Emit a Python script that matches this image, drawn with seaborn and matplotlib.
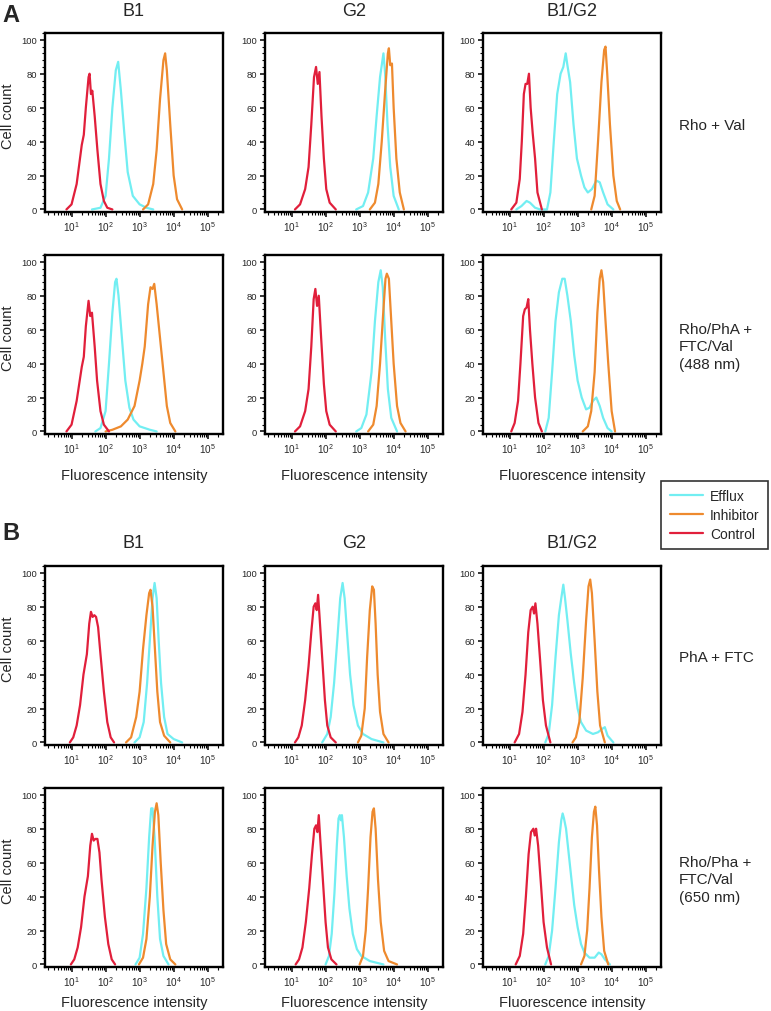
import pandas as pd
import matplotlib
matplotlib.use("Agg")
import matplotlib.pyplot as plt
from matplotlib.ticker import MultipleLocator, LogLocator, NullFormatter
from matplotlib.lines import Line2D
import seaborn as sns

# histogram outlines: (log10 intensity, cell count)
# panel A, row 1 (Rho + Val)
A1_EFFLUX = [(1.6, 0), (1.85, 1), (2.0, 8), (2.1, 30), (2.2, 60), (2.3, 82), (2.37, 87), (2.45, 70), (2.55, 45), (2.65, 22), (2.8, 8), (3.0, 3), (3.2, 1), (3.4, 0)]
A1_INHIB = [(3.1, 0), (3.25, 3), (3.4, 15), (3.5, 35), (3.6, 65), (3.7, 88), (3.75, 92), (3.8, 82), (3.9, 50), (4.0, 20), (4.1, 6), (4.25, 0)]
A1_CONTROL = [(0.85, 0), (1.0, 3), (1.15, 15), (1.3, 38), (1.36, 44), (1.42, 60), (1.5, 78), (1.53, 80), (1.57, 68), (1.61, 70), (1.68, 55), (1.76, 35), (1.85, 15), (1.95, 5), (2.05, 1), (2.2, 0)]

A2_EFFLUX = [(2.9, 0), (3.1, 2), (3.25, 10), (3.4, 30), (3.5, 55), (3.6, 78), (3.7, 92), (3.75, 80), (3.82, 50), (3.9, 25), (4.0, 8), (4.15, 0)]
A2_INHIB = [(3.3, 0), (3.45, 4), (3.55, 15), (3.65, 40), (3.75, 70), (3.83, 92), (3.86, 95), (3.9, 85), (3.95, 86), (4.0, 60), (4.08, 30), (4.18, 10), (4.3, 0)]
A2_CONTROL = [(1.1, 0), (1.25, 3), (1.4, 12), (1.5, 25), (1.58, 50), (1.66, 78), (1.72, 84), (1.77, 74), (1.82, 81), (1.88, 55), (1.95, 30), (2.02, 12), (2.12, 4), (2.3, 0)]

A3_EFFLUX = [(1.2, 0), (1.35, 2), (1.5, 5), (1.6, 4), (1.75, 1), (1.9, 0), (2.1, 0), (2.2, 10), (2.3, 40), (2.4, 68), (2.5, 80), (2.58, 84), (2.65, 92), (2.7, 85), (2.78, 75), (2.88, 50), (2.98, 30), (3.1, 20), (3.2, 13), (3.3, 10), (3.42, 12), (3.55, 17), (3.65, 16), (3.75, 10), (3.88, 3), (4.05, 0)]
A3_INHIB = [(3.4, 0), (3.5, 8), (3.6, 40), (3.7, 75), (3.78, 94), (3.82, 96), (3.87, 80), (3.95, 50), (4.05, 20), (4.15, 5), (4.25, 0)]
A3_CONTROL = [(1.05, 0), (1.2, 4), (1.3, 18), (1.36, 40), (1.42, 68), (1.47, 74), (1.52, 74), (1.57, 80), (1.62, 60), (1.68, 45), (1.75, 30), (1.82, 10), (1.95, 0)]

# panel A, row 2 (Rho/PhA + FTC/Val, 488 nm)
A4_EFFLUX = [(1.7, 0), (1.85, 2), (2.0, 12), (2.1, 40), (2.2, 70), (2.28, 88), (2.32, 90), (2.38, 80), (2.48, 55), (2.58, 30), (2.7, 14), (2.82, 7), (3.0, 3), (3.3, 1), (3.5, 0)]
A4_INHIB = [(2.0, 0), (2.2, 1), (2.45, 3), (2.65, 7), (2.85, 15), (3.0, 30), (3.08, 40), (3.15, 50), (3.25, 75), (3.32, 85), (3.38, 84), (3.43, 87), (3.5, 75), (3.6, 55), (3.7, 35), (3.8, 15), (3.9, 5), (4.05, 0)]
A4_CONTROL = [(0.85, 0), (1.0, 4), (1.15, 18), (1.3, 38), (1.36, 44), (1.42, 62), (1.5, 77), (1.55, 68), (1.6, 70), (1.68, 50), (1.75, 30), (1.85, 12), (1.95, 4), (2.1, 0)]

A5_EFFLUX = [(2.9, 0), (3.05, 2), (3.2, 10), (3.35, 35), (3.45, 65), (3.55, 88), (3.62, 95), (3.68, 85), (3.75, 55), (3.83, 25), (3.93, 8), (4.1, 0)]
A5_INHIB = [(3.25, 0), (3.4, 4), (3.5, 15), (3.6, 40), (3.7, 72), (3.76, 90), (3.8, 93), (3.86, 90), (3.93, 65), (4.0, 40), (4.1, 15), (4.2, 5), (4.35, 0)]
A5_CONTROL = [(1.1, 0), (1.25, 3), (1.4, 12), (1.5, 25), (1.58, 50), (1.65, 78), (1.7, 84), (1.75, 74), (1.8, 80), (1.87, 55), (1.95, 28), (2.02, 12), (2.12, 4), (2.3, 0)]

A6_EFFLUX = [(2.05, 0), (2.15, 8), (2.25, 35), (2.35, 65), (2.45, 82), (2.55, 90), (2.62, 90), (2.7, 80), (2.8, 65), (2.9, 45), (3.0, 30), (3.12, 20), (3.25, 13), (3.35, 14), (3.45, 18), (3.55, 20), (3.65, 15), (3.75, 8), (3.88, 2), (4.0, 0)]
A6_INHIB = [(3.15, 0), (3.3, 3), (3.4, 12), (3.5, 35), (3.58, 70), (3.65, 90), (3.7, 95), (3.75, 88), (3.82, 65), (3.9, 40), (4.0, 12), (4.1, 0)]
A6_CONTROL = [(1.05, 0), (1.15, 5), (1.25, 18), (1.32, 40), (1.4, 68), (1.45, 72), (1.5, 73), (1.55, 78), (1.6, 60), (1.67, 40), (1.75, 20), (1.85, 5), (1.95, 0)]

# panel B, row 1 (PhA + FTC)
B1_EFFLUX = [(2.85, 0), (3.0, 3), (3.12, 12), (3.22, 35), (3.3, 60), (3.38, 85), (3.44, 94), (3.5, 85), (3.56, 60), (3.63, 35), (3.72, 15), (3.82, 5), (4.0, 2), (4.25, 0)]
B1_INHIB = [(2.6, 0), (2.75, 3), (2.9, 15), (3.0, 30), (3.1, 55), (3.2, 75), (3.28, 88), (3.32, 90), (3.38, 80), (3.45, 55), (3.52, 30), (3.6, 12), (3.72, 4), (3.9, 0)]
B1_CONTROL = [(0.95, 0), (1.05, 3), (1.15, 10), (1.25, 22), (1.35, 40), (1.45, 52), (1.52, 70), (1.57, 77), (1.62, 74), (1.67, 75), (1.72, 74), (1.78, 68), (1.85, 52), (1.95, 30), (2.05, 12), (2.15, 3), (2.25, 0)]

B2_EFFLUX = [(1.9, 0), (2.05, 5), (2.15, 15), (2.25, 35), (2.35, 62), (2.43, 85), (2.5, 94), (2.56, 85), (2.63, 65), (2.72, 40), (2.82, 22), (2.95, 10), (3.1, 5), (3.35, 2), (3.7, 0)]
B2_INHIB = [(2.95, 0), (3.05, 4), (3.15, 20), (3.22, 50), (3.3, 78), (3.37, 92), (3.42, 90), (3.47, 70), (3.53, 40), (3.6, 18), (3.7, 5), (3.85, 0)]
B2_CONTROL = [(1.1, 0), (1.2, 3), (1.3, 10), (1.4, 25), (1.5, 45), (1.58, 65), (1.65, 80), (1.7, 82), (1.74, 78), (1.78, 87), (1.82, 75), (1.9, 50), (1.98, 25), (2.05, 10), (2.15, 3), (2.3, 0)]

B3_EFFLUX = [(2.05, 0), (2.15, 5), (2.25, 22), (2.35, 50), (2.45, 75), (2.52, 85), (2.58, 93), (2.63, 85), (2.7, 72), (2.8, 52), (2.9, 35), (3.0, 20), (3.1, 12), (3.25, 7), (3.45, 5), (3.6, 6), (3.72, 8), (3.8, 9), (3.88, 4), (4.05, 0)]
B3_INHIB = [(2.85, 0), (2.95, 3), (3.05, 12), (3.15, 38), (3.25, 72), (3.32, 92), (3.37, 96), (3.42, 88), (3.5, 60), (3.58, 30), (3.66, 10), (3.8, 0)]
B3_CONTROL = [(1.15, 0), (1.28, 5), (1.38, 18), (1.47, 40), (1.55, 65), (1.62, 78), (1.68, 80), (1.72, 76), (1.76, 82), (1.82, 70), (1.9, 48), (1.98, 25), (2.07, 10), (2.2, 0)]

# panel B, row 2 (Rho/Pha + FTC/Val, 650 nm)
B4_EFFLUX = [(2.88, 0), (3.0, 4), (3.1, 18), (3.2, 45), (3.28, 75), (3.34, 92), (3.38, 92), (3.44, 75), (3.52, 40), (3.6, 15), (3.7, 5), (3.85, 0)]
B4_INHIB = [(2.98, 0), (3.1, 4), (3.2, 15), (3.3, 40), (3.38, 70), (3.45, 90), (3.5, 95), (3.55, 88), (3.62, 60), (3.7, 32), (3.78, 12), (3.9, 3), (4.05, 0)]
B4_CONTROL = [(0.98, 0), (1.08, 3), (1.18, 10), (1.28, 22), (1.38, 40), (1.48, 52), (1.55, 70), (1.6, 77), (1.65, 73), (1.7, 74), (1.76, 74), (1.82, 66), (1.88, 50), (1.98, 28), (2.08, 12), (2.18, 3), (2.28, 0)]

B5_EFFLUX = [(2.0, 0), (2.1, 5), (2.18, 18), (2.26, 42), (2.33, 70), (2.38, 86), (2.42, 88), (2.45, 85), (2.48, 88), (2.54, 75), (2.62, 52), (2.7, 33), (2.8, 18), (2.92, 9), (3.05, 5), (3.3, 2), (3.7, 0)]
B5_INHIB = [(3.0, 0), (3.1, 5), (3.18, 20), (3.25, 45), (3.32, 75), (3.38, 90), (3.42, 92), (3.47, 80), (3.54, 50), (3.62, 25), (3.72, 8), (3.85, 2), (4.1, 0)]
B5_CONTROL = [(1.12, 0), (1.22, 3), (1.32, 10), (1.42, 25), (1.52, 45), (1.6, 65), (1.67, 80), (1.72, 82), (1.76, 78), (1.8, 88), (1.84, 75), (1.92, 50), (2.0, 25), (2.07, 10), (2.17, 3), (2.32, 0)]

B6_EFFLUX = [(2.05, 0), (2.15, 5), (2.25, 20), (2.35, 45), (2.45, 72), (2.52, 85), (2.56, 89), (2.6, 86), (2.66, 80), (2.74, 65), (2.82, 50), (2.9, 35), (3.0, 22), (3.1, 12), (3.2, 7), (3.35, 4), (3.5, 4), (3.62, 7), (3.7, 6), (3.8, 3), (3.95, 0)]
B6_INHIB = [(3.1, 0), (3.2, 5), (3.28, 20), (3.35, 45), (3.42, 75), (3.48, 90), (3.52, 93), (3.57, 82), (3.63, 55), (3.7, 28), (3.78, 8), (3.9, 0)]
B6_CONTROL = [(1.18, 0), (1.3, 5), (1.4, 18), (1.48, 40), (1.56, 65), (1.63, 78), (1.7, 80), (1.74, 76), (1.78, 80), (1.84, 70), (1.92, 48), (2.0, 25), (2.1, 10), (2.22, 0)]

COL_TITLES = ["B1", "G2", "B1/G2"]
ROW_LABELS = ["Rho + Val", "Rho/PhA +\nFTC/Val\n(488 nm)", "PhA + FTC", "Rho/Pha +\nFTC/Val\n(650 nm)"]
SAMPLES = ["Efflux", "Inhibitor", "Control"]
COLORS = {"Efflux": "#72EEF2", "Inhibitor": "#EE8A2E", "Control": "#E11F3B"}
YTICKS = [0, 20, 40, 60, 80, 100]
XTICKS = [1e1, 1e2, 1e3, 1e4, 1e5]
XTICKLABELS = [r"$\mathregular{10^{%d}}$" % i for i in range(1, 6)]

PANELS = [
    [(A1_EFFLUX, A1_INHIB, A1_CONTROL), (A2_EFFLUX, A2_INHIB, A2_CONTROL), (A3_EFFLUX, A3_INHIB, A3_CONTROL)],
    [(A4_EFFLUX, A4_INHIB, A4_CONTROL), (A5_EFFLUX, A5_INHIB, A5_CONTROL), (A6_EFFLUX, A6_INHIB, A6_CONTROL)],
    [(B1_EFFLUX, B1_INHIB, B1_CONTROL), (B2_EFFLUX, B2_INHIB, B2_CONTROL), (B3_EFFLUX, B3_INHIB, B3_CONTROL)],
    [(B4_EFFLUX, B4_INHIB, B4_CONTROL), (B5_EFFLUX, B5_INHIB, B5_CONTROL), (B6_EFFLUX, B6_INHIB, B6_CONTROL)],
]

sns.set_style("ticks")
plt.rcParams["font.family"] = ["Liberation Sans", "DejaVu Sans"]
plt.rcParams["mathtext.fontset"] = "custom"
plt.rcParams["mathtext.rm"] = "Liberation Sans"

W, H = 771, 1012
fig = plt.figure(figsize=(W / 100, H / 100), dpi=100)

col_left = [45, 265, 483]
row_top = [34, 256, 567, 789]
pw, ph = 178, 179


def panel_df(curves):
    rows = []
    for name, pts in zip(SAMPLES, curves):
        for lx, cnt in pts:
            rows.append({"sample": name, "intensity": 10 ** lx, "count": cnt})
    return pd.DataFrame(rows)


for r in range(4):
    for c in range(3):
        ax = fig.add_axes([col_left[c] / W, 1 - (row_top[r] + ph) / H, pw / W, ph / H])
        df = panel_df(PANELS[r][c])
        sns.lineplot(data=df, x="intensity", y="count", hue="sample", hue_order=SAMPLES,
                     palette=COLORS, estimator=None, sort=False, linewidth=1.6,
                     legend=False, ax=ax)
        ax.set_xscale("log")
        ax.set_xlim(10 ** 0.22, 10 ** 5.45)
        ax.set_ylim(-1.5, 104)
        ax.set_xticks(XTICKS)
        ax.set_xticklabels(XTICKLABELS)
        ax.xaxis.set_minor_locator(LogLocator(base=10, subs=range(2, 10), numticks=20))
        ax.xaxis.set_minor_formatter(NullFormatter())
        ax.set_yticks(YTICKS)
        ax.yaxis.set_minor_locator(MultipleLocator(4))
        ax.tick_params(axis="y", which="major", labelsize=6.8)
        ax.tick_params(axis="x", which="major", labelsize=7.2)
        ax.tick_params(which="major", length=3.5, width=1.1, pad=2, color="black")
        ax.tick_params(which="minor", length=2, width=0.8, color="black")
        ax.set_xlabel("")
        ax.set_ylabel("")
        for sp in ax.spines.values():
            sp.set_linewidth(1.7)
            sp.set_color("black")

# panel letters and column titles
fig.text(11 / W, 1 - 15 / H, "A", fontsize=17, fontweight="bold", ha="center", va="center")
fig.text(11 / W, 1 - 534 / H, "B", fontsize=17, fontweight="bold", ha="center", va="center")
for c, t in enumerate(COL_TITLES):
    xc = (col_left[c] + pw / 2) / W
    fig.text(xc, 1 - 12 / H, t, fontsize=13, ha="center", va="center")
    fig.text(xc, 1 - 543 / H, t, fontsize=13, ha="center", va="center")
    fig.text(xc, 1 - 476 / H, "Fluorescence intensity", fontsize=10.5, ha="center", va="center")
    fig.text(xc, 1 - 1003 / H, "Fluorescence intensity", fontsize=10.5, ha="center", va="center")

for r in range(4):
    yc = row_top[r] + ph / 2
    fig.text(8 / W, 1 - (yc - 7) / H, "Cell count", fontsize=10.5, rotation=90, ha="center", va="center")
    fig.text(679 / W, 1 - (yc + 2) / H, ROW_LABELS[r], fontsize=11, ha="left", va="center", linespacing=1.34)

handles = [Line2D([], [], color=COLORS[s], linewidth=1.6) for s in SAMPLES]
leg = fig.legend(handles, SAMPLES, loc="upper right", bbox_to_anchor=(768 / W, 1 - 482 / H),
                 borderaxespad=0, frameon=True, fancybox=False, edgecolor="black", fontsize=10,
                 handlelength=2.4, labelspacing=0.35, borderpad=0.6, handletextpad=0.5)
leg.get_frame().set_linewidth(1.2)

fig.savefig("out.png", dpi=100)
